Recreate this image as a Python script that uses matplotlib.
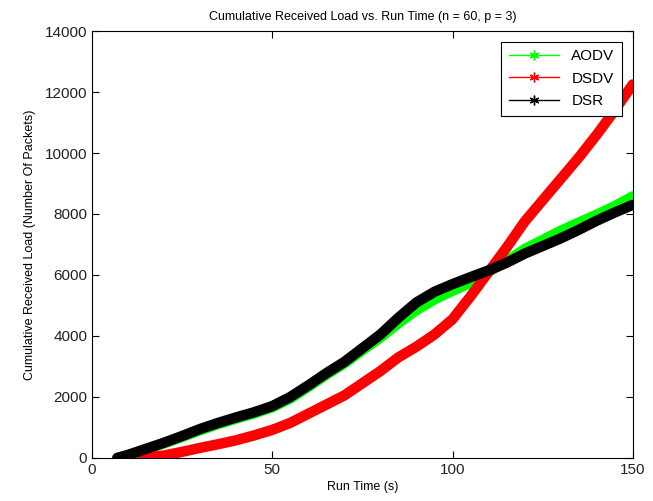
import numpy as np
import matplotlib
matplotlib.use("Agg")
import matplotlib.pyplot as plt
from matplotlib.lines import Line2D

plt.rcParams['font.family'] = ['Liberation Sans', 'DejaVu Sans']

# run time (s) and cumulative received load
t_aodv = [7, 10, 15, 20, 25, 30, 35, 40, 45, 50, 55, 60, 65, 70, 75, 80, 85,
          90, 95, 100, 105, 110, 115, 120, 125, 130, 135, 140, 145, 150]
aodv = [0, 90, 280, 480, 690, 910, 1110, 1290, 1460, 1660, 1950, 2330, 2730,
        3100, 3530, 3950, 4420, 4850, 5200, 5480, 5750, 6100, 6450, 6850,
        7150, 7450, 7720, 7980, 8260, 8580]

t_dsdv = [14, 20, 25, 30, 35, 40, 45, 50, 55, 60, 65, 70, 75, 80, 85, 90,
          95, 100, 105, 110, 115, 120, 125, 130, 135, 140, 145, 150]
dsdv = [0, 80, 200, 330, 450, 580, 740, 920, 1150, 1450, 1750, 2050, 2450,
        2850, 3300, 3650, 4050, 4550, 5300, 6100, 6900, 7750, 8450, 9150,
        9850, 10600, 11400, 12250]

t_dsr = [7, 10, 15, 20, 25, 30, 35, 40, 45, 50, 55, 60, 65, 70, 75, 80, 85,
         90, 95, 100, 105, 110, 115, 120, 125, 130, 135, 140, 145, 150]
dsr = [0, 100, 300, 500, 720, 950, 1150, 1330, 1500, 1700, 2000, 2380, 2780,
       3150, 3600, 4050, 4600, 5100, 5450, 5700, 5930, 6150, 6400, 6700,
       6950, 7200, 7480, 7780, 8050, 8300]

series = [("AODV", t_aodv, aodv, "#00ff00"),
          ("DSDV", t_dsdv, dsdv, "#ff0000"),
          ("DSR", t_dsr, dsr, "#000000")]

# matlab style asterisk
star = (6, 2, 0)


def main():
  fig = plt.figure(figsize=(6.53, 5.01), dpi=100)
  ax = fig.add_axes([0.141, 0.086, 0.828, 0.852])

  handles = []
  for name, t, y, c in series:
    ax.plot(t, y, color=c, linewidth=7.5, solid_capstyle="round",
            solid_joinstyle="round")
    handles.append(Line2D([], [], color=c, linewidth=1, marker=star,
                          markersize=7, markeredgewidth=1, label=name))

  ax.set_xlim(0, 150)
  ax.set_ylim(0, 14000)
  ax.set_xticks([0, 50, 100, 150])
  ax.set_yticks(np.arange(0, 14001, 2000))
  ax.tick_params(direction="in", length=5, labelsize=11, top=True,
                 right=True, labeltop=False, labelright=False, width=0.8,
                 labelcolor="#222222")
  for s in ax.spines.values():
    s.set_linewidth(0.8)

  ax.set_title("Cumulative Received Load vs. Run Time (n = 60, p = 3)",
               fontsize=9, pad=8)
  ax.set_xlabel("Run Time (s)", fontsize=9, labelpad=3)
  ax.set_ylabel("Cumulative Received Load (Number Of Packets)", fontsize=9,
                labelpad=6)

  leg = ax.legend(handles=handles, loc="upper right", fontsize=11,
                  fancybox=False, framealpha=1, edgecolor="black",
                  handlelength=3.3, borderaxespad=0.7, labelspacing=0.55,
                  borderpad=0.5)
  leg.get_frame().set_linewidth(0.8)

  fig.savefig("out.png", dpi=100)


if __name__ == "__main__":
  main()
